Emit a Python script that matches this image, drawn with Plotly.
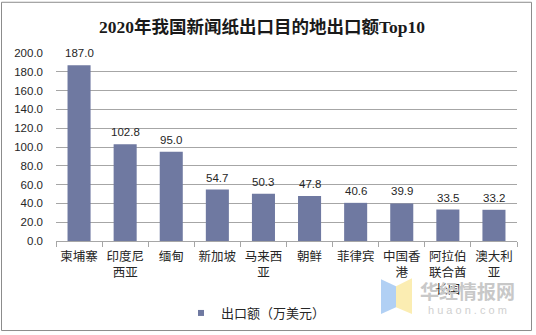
import plotly.graph_objects as go

categories = ["柬埔寨", "印度尼<br>西亚", "缅甸", "新加坡", "马来西<br>亚", "朝鲜", "菲律宾", "中国香<br>港", "阿拉伯<br>联合酋<br>长国", "澳大利<br>亚"]
values = [187.0, 102.8, 95.0, 54.7, 50.3, 47.8, 40.6, 39.9, 33.5, 33.2]
series_name = "出口额（万美元）"
title_text = "2020年我国新闻纸出口目的地出口额Top10"
y_ticks = [0, 20, 40, 60, 80, 100, 120, 140, 160, 180, 200]

W, H = 536, 335
L, R, T, B = 56, 517, 52.5, 241.5

def px(x):
    return (x - L) / (R - L)

def py(y):
    return (B - y) / (B - T)

FONT = "Liberation Sans, Arial, Noto Sans CJK SC, sans-serif"
BAR = "#6F79A1"
GRID = "#A6A6A6"
TXT = "#262626"

fig = go.Figure()
fig.add_trace(go.Bar(
    x=categories, y=values, name=series_name,
    marker=dict(color=BAR, line=dict(width=0)),
    showlegend=False,
))
fig.add_trace(go.Scatter(
    x=[None], y=[None], mode="markers", name=series_name,
    marker=dict(symbol="square", size=6, color=BAR), showlegend=True,
))

for c, v in zip(categories, values):
    fig.add_annotation(x=c, y=v, text=f"{v:.1f}", showarrow=False,
                       yshift=12, font=dict(family=FONT, size=11.5, color=TXT))

# title
fig.add_annotation(xref="paper", yref="paper", x=px(262), y=py(26), text="<b>" + title_text + "</b>",
                   showarrow=False, xanchor="center", yanchor="middle",
                   font=dict(family="Liberation Serif, Noto Sans CJK SC, serif", size=17.5, color="#1a1a1a"))

# watermark logo
fig.add_shape(type="path", xref="paper", yref="paper",
              path=f"M {px(381)},{py(280)} L {px(396)},{py(287)} L {px(396)},{py(308)} L {px(381)},{py(315)} Z",
              fillcolor="#A9CBF3", line=dict(width=0), opacity=0.9)
fig.add_shape(type="path", xref="paper", yref="paper",
              path=f"M {px(396)},{py(287)} L {px(412)},{py(279)} L {px(412)},{py(315)} L {px(396)},{py(308)} Z",
              fillcolor="#FBEBAA", line=dict(width=0), opacity=0.9)
fig.add_annotation(xref="paper", yref="paper", x=px(467), y=py(291), text="<b>华经情报网</b>",
                   showarrow=False, xanchor="center", yanchor="middle",
                   font=dict(family="Noto Sans CJK SC", size=19, color="#C8C8C8"))
fig.add_annotation(xref="paper", yref="paper", x=px(467), y=py(311), text="h u a o n . c o m",
                   showarrow=False, xanchor="center", yanchor="middle",
                   font=dict(family=FONT, size=11, color="#D0D0D0"))

# outer border
fig.add_shape(type="rect", xref="paper", yref="paper",
              x0=px(1.5), x1=px(531.5), y0=py(331.5), y1=py(1.5),
              line=dict(color="#8C8C8C", width=1), fillcolor="rgba(0,0,0,0)", layer="below")

fig.update_layout(
    width=W, height=H,
    margin=dict(l=L, r=W - R, t=T, b=H - B, pad=0, autoexpand=False),
    paper_bgcolor="white", plot_bgcolor="white",
    bargap=0.5,
    font=dict(family=FONT, size=12, color=TXT),
    legend=dict(orientation="h", xref="container", yref="container",
                x=181 / W, y=1 - 313 / H, xanchor="left", yanchor="middle",
                font=dict(family=FONT, size=13, color=TXT), itemwidth=30,
                bgcolor="rgba(0,0,0,0)"),
    xaxis=dict(showline=True, linecolor=GRID, linewidth=1, ticks="outside", tickson="boundaries",
               ticklen=5, tickcolor=GRID, tickfont=dict(size=12.5, color=TXT), showgrid=False,
               tickangle=0, automargin=False, ticklabelstandoff=4),
    yaxis=dict(range=[0, 200], tickvals=y_ticks, tickformat=".1f", showgrid=True, gridcolor=GRID,
               gridwidth=1, zeroline=False, showline=False, ticks="", ticklabelstandoff=12,
               tickfont=dict(size=11.5, color=TXT), automargin=False),
)

fig.write_html("out.html")
